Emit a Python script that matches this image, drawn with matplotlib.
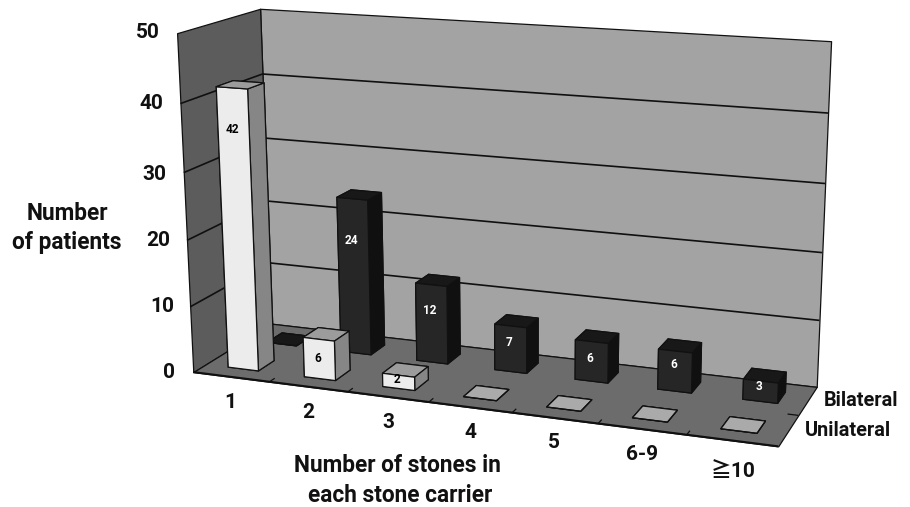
import numpy as np
import matplotlib
matplotlib.use('Agg')
import matplotlib.pyplot as plt
from mpl_toolkits.mplot3d.art3d import Poly3DCollection, Line3DCollection

plt.rcParams['font.family'] = ['Roboto', 'Noto Sans CJK JP', 'DejaVu Sans']

categories = ['1', '2', '3', '4', '5', '6-9', '≧10']
rows = ['Unilateral', 'Bilateral']
unilateral = [42, 6, 2, 0, 0, 0, 0]
bilateral = [0, 24, 12, 7, 6, 6, 3]
z_ticks = [0, 10, 20, 30, 40, 50]

# height on the bar front where each value label sits
unilateral_label_z = [36, 3, 1.3, 0, 0, 0, 0]
bilateral_label_z = [0, 17.6, 8, 4.5, 3.4, 3.9, 2.1]

W, H = 910, 507
n_x, n_y, z_max = len(categories), len(rows), z_ticks[-1]

# frame corners of the reference: (x, y, z) -> pixel, used to fit the camera
calib = [
    ((0, 0, 0), (192, 372)), ((0, 0, 10), (189, 307)), ((0, 0, 20), (187, 240)),
    ((0, 0, 30), (185, 172)), ((0, 0, 40), (181, 104)), ((0, 0, 50), (178, 33)),
    ((0, 2, 0), (272, 324)), ((0, 2, 10), (270, 263)), ((0, 2, 20), (268, 201)),
    ((0, 2, 30), (267, 138)), ((0, 2, 40), (260, 74)), ((0, 2, 50), (258, 9)),
    ((7, 2, 0), (817, 387)), ((7, 2, 10), (819, 320)), ((7, 2, 20), (822, 252)),
    ((7, 2, 30), (825, 183)), ((7, 2, 40), (828, 113)), ((7, 2, 50), (832, 42)),
    ((7, 0, 0), (778, 447)),
]


def fit_camera(pairs):
    rows_a = []
    for (x, y, z), (u, v) in pairs:
        rows_a.append([x, y, z, 1, 0, 0, 0, 0, -u * x, -u * y, -u * z, -u])
        rows_a.append([0, 0, 0, 0, x, y, z, 1, -v * x, -v * y, -v * z, -v])
    p = np.linalg.svd(np.array(rows_a, float))[2][-1].reshape(3, 4)
    w = p[2] @ np.array([3.5, 1, 25, 1])
    return p / w


def px(x, y):
    return x / W, 1 - y / H


camera = fit_camera(calib)


def project(x, y, z):
    u, v, w = camera @ np.array([x, y, z, 1.0])
    return u / w, v / w


fig = plt.figure(figsize=(W / 100, H / 100), dpi=100)
# Axes3D forces a square box, so let it overflow the figure
ax = fig.add_axes([0, (H - W) / 2 / H, 1, W / H], projection='3d')
ax.set_axis_off()
ax.computed_zorder = False

x0, x1 = ax.viewLim.intervalx
y0, y1 = ax.viewLim.intervaly
to_view = np.array([
    [(x1 - x0) / W, 0, x0],
    [0, -(y1 - y0) / W, y0 + (y1 - y0) * (H + (W - H) / 2) / W],
    [0, 0, 1],
])
P = to_view @ camera
M = np.vstack([P[0], P[1], P[2] - np.array([0, 0, 0, 0.5]), P[2]])
ax.get_proj = lambda: M

EDGE = '#111111'


def pane(corners, color, zorder):
    ax.add_collection3d(Poly3DCollection([corners], facecolor=color, edgecolor=EDGE,
                                         linewidth=0.9, zorder=zorder))


def lines(segments, lw, zorder=2):
    ax.add_collection3d(Line3DCollection(segments, colors='#101010', linewidths=lw, zorder=zorder))


pane([(0, 2, 0), (n_x, 2, 0), (n_x, 2, z_max), (0, 2, z_max)], '#a3a3a3', 1)
pane([(0, 0, 0), (0, 2, 0), (0, 2, z_max), (0, 0, z_max)], '#5c5c5c', 1)
pane([(0, 0, 0), (n_x, 0, 0), (n_x, 2, 0), (0, 2, 0)], '#6c6c6c', 1)

# gridlines on both walls
lines([[(0, 0, t), (0, 2, t), (n_x, 2, t)] for t in z_ticks[1:-1]], 1.2)

# ticks on the floor edges, then the heavier front edge
lines([[(i, 0, 0), (i, 0.13, 0)] for i in range(1, n_x)], 0.9)
lines([[(n_x - 0.12, 1, 0), (n_x, 1, 0)]], 0.9)
lines([[(0, 0, 0), (n_x, 0, 0)]], 1.5)

# face order of bar3d: bottom, top, front, back, left, right
uni_faces = ['#6c6c6c', '#9c9c9c', '#ececec', '#9c9c9c', '#8a8a8a', '#868686']
uni_flat = ['#aaaaaa'] * 6
bi_faces = ['#1c1c1c', '#181818', '#262626', '#181818', '#101010', '#101010']

BAR = 0.4
for row, values, label_z, faces, text_color in [
        (1, bilateral, bilateral_label_z, bi_faces, 'white'),
        (0, unilateral, unilateral_label_z, uni_faces, 'black')]:
    for i, v in enumerate(values):
        colors = uni_flat if (row == 0 and v == 0) else faces
        bar = ax.bar3d(i + 0.3, row + 0.3, 0, BAR, BAR, v, color=colors,
                       edgecolor=EDGE, linewidth=0.9, shade=False)
        bar.set_zorder(5 + (row == 0) * 10 + i * 0.1)
        if v > 0:
            fig.text(*px(*project(i + 0.48, row + 0.3, label_z[i])), str(v), color=text_color,
                     fontsize=8.5, fontweight='bold', ha='center', va='center')

# tick labels and titles placed in picture pixels
tick_font = dict(fontsize=15, fontweight='bold', color='#111111', ha='center', va='center')
title_font = dict(fontsize=16.3, fontweight='bold', color='#111111', ha='center', va='center')
side_font = dict(fontsize=14.3, fontweight='bold', color='#111111', ha='center', va='center')

z_label_x = [169, 162, 158, 154, 151, 148]
z_label_y = [372, 307, 241, 174, 104, 33]
for t, lx, ly in zip(z_ticks, z_label_x, z_label_y):
    fig.text(*px(lx, ly), str(t), **tick_font)

cat_x = [230, 308, 388, 470, 554, 642, 733]
cat_y = [402, 412, 422, 432, 442, 455, 471]
for c, lx, ly in zip(categories, cat_x, cat_y):
    fig.text(*px(lx, ly), c, **tick_font)

fig.text(*px(67, 214), 'Number', **title_font)
fig.text(*px(67, 243), 'of patients', **title_font)
fig.text(*px(397, 465), 'Number of stones in', **title_font)
fig.text(*px(400, 495), 'each stone carrier', **title_font)
fig.text(*px(861, 400), rows[1], **side_font)
fig.text(*px(848, 430), rows[0], **side_font)

fig.savefig('out.png', dpi=100)
